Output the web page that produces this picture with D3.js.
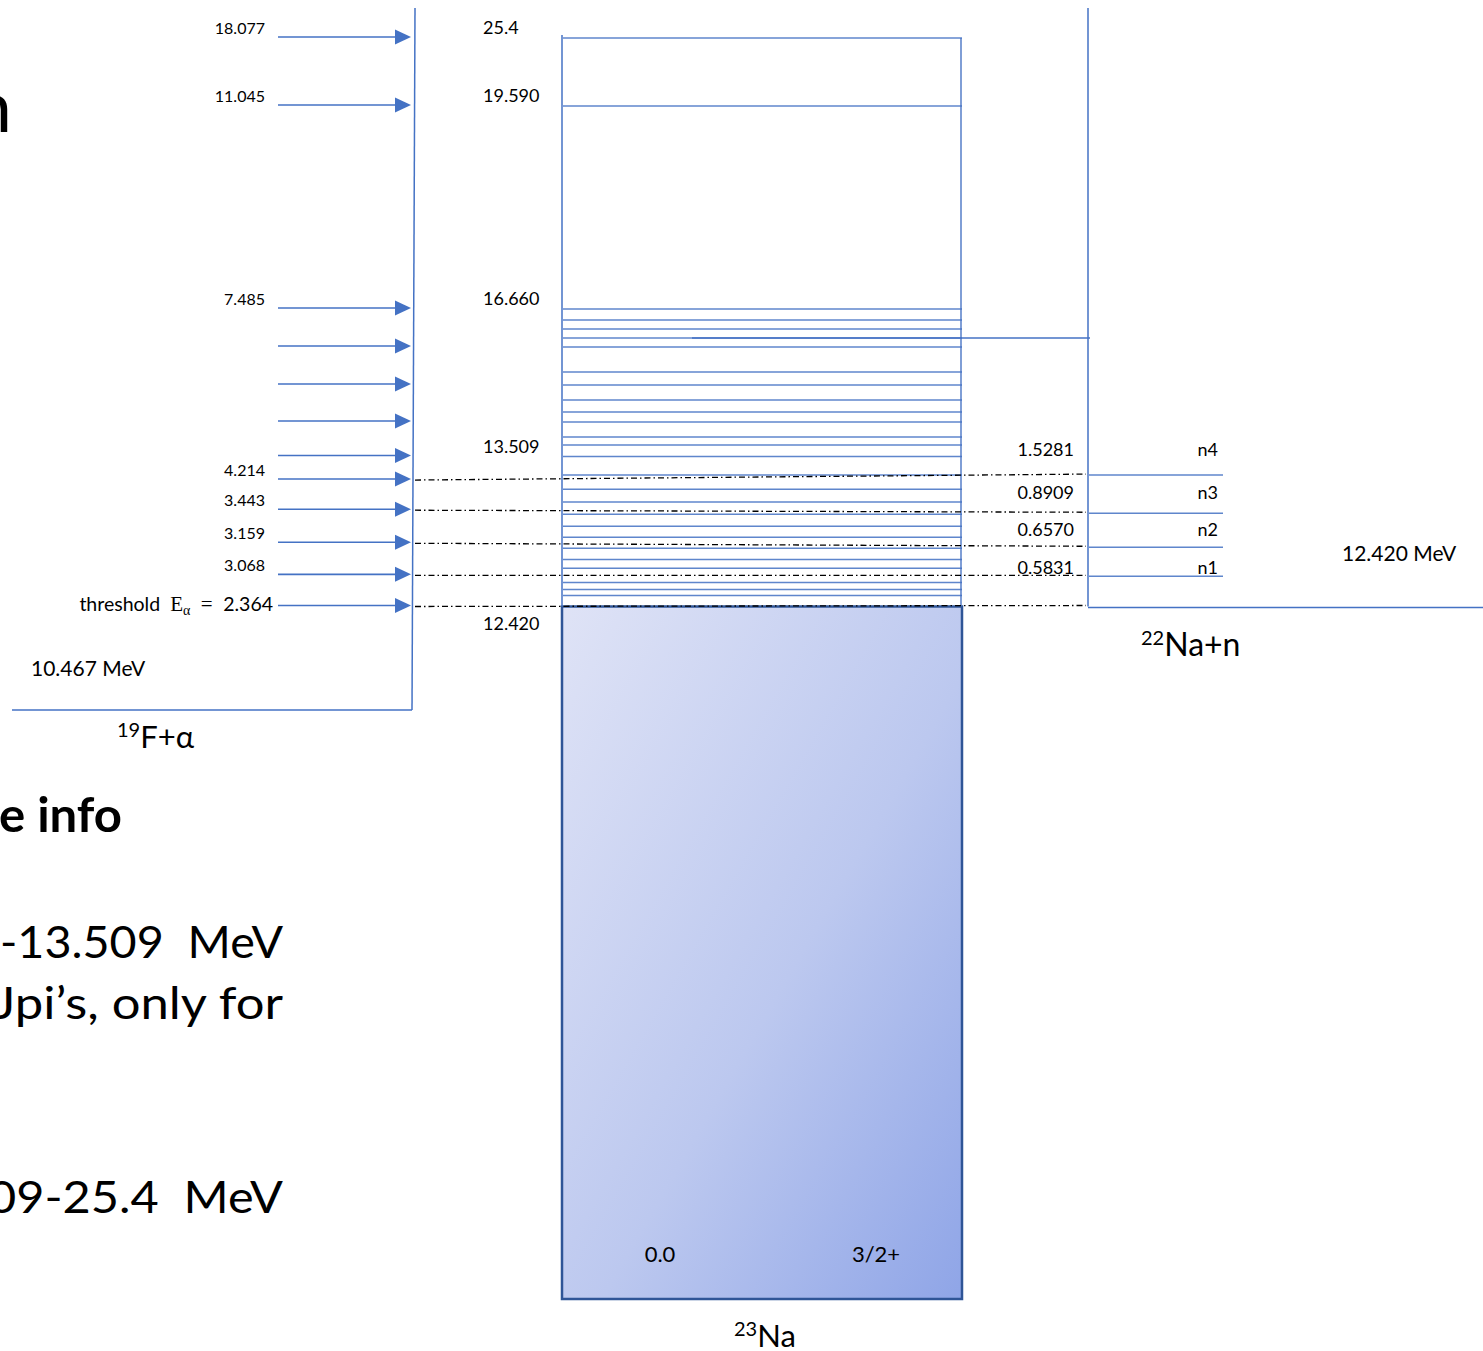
<!DOCTYPE html>
<html><head><meta charset="utf-8">
<script src="https://cdn.jsdelivr.net/npm/d3@7"></script>
<style>body{margin:0;background:#fff;overflow:hidden} svg{display:block}</style>
</head><body><svg id="chart" width="1483" height="1351"></svg>
<script>
// 23Na excitation energies (MeV) of the levels drawn inside the compound-nucleus column
const levelEx = [12.500, 12.544, 12.595, 12.697, 12.762, 12.842, 12.923, 13.003, 13.090, 13.178,
  13.272, 13.374, 13.509, 13.755, 13.926, 14.246, 14.460, 14.716, 15.036, 15.314,
  15.848, 16.041, 16.233, 16.425, 16.660, 19.590, 25.4];
// Labelled 23Na levels
const levelLabels = ["25.4", "19.590", "16.660", "13.509", "12.420"];
const levelLabelEx = [25.4, 19.590, 16.660, 13.509, 12.420];
// Alpha beam energies (MeV, lab) and the 23Na level each beam energy populates
const alphaLabels = ["18.077", "11.045", "7.485", "", "", "", "", "4.214", "3.443", "3.159", "3.068", "2.364"];
const alphaEx = [25.4, 19.59, 16.66, 15.848, 15.036, 14.246, 13.509, 13.338, 13.119, 12.879, 12.646, 12.420];
// 22Na+n exit channels: neutron energies (MeV) and the 23Na resonance they sit at
const neutronNames = ["n1", "n2", "n3", "n4"];
const neutronEn = ["0.5831", "0.6570", "0.8909", "1.5281"];
const neutronEx = [12.639, 12.850, 13.097, 13.374];
// Separation energies and ground state
const alphaThreshold = 10.467;
const neutronThreshold = 12.420;
const neutronPanelTop = 16.041;
const groundEx = 0.0;
const groundJpi = "3/2+";

const svg = d3.select("#chart");
const blue = "#4472C4";
const font = "Lato, 'Open Sans', sans-serif";
const serif = "'Liberation Serif', 'DejaVu Serif', serif";

// Schematic (piecewise linear) energy axis
const y = d3.scaleLinear()
  .domain([groundEx, alphaThreshold, neutronThreshold, 13.509, 16.660, 19.590, 25.4])
  .range([1299, 710, 606.5, 456.5, 309, 106, 38]);

const colL = 562, colR = 961;      // 23Na column
const fL = 414, nL = 1088;         // 19F+a and 22Na+n panel edges
const topY = 8;

// ---------- gradient for the ground-state block ----------
const defs = svg.append("defs");
const grad = defs.append("linearGradient").attr("id", "gsGrad")
  .attr("x1", "0%").attr("y1", "0%").attr("x2", "100%").attr("y2", "100%");
grad.append("stop").attr("offset", "0%").attr("stop-color", "#dfe3f6");
grad.append("stop").attr("offset", "55%").attr("stop-color", "#bcc8ef");
grad.append("stop").attr("offset", "100%").attr("stop-color", "#8fa5e7");

// ---------- slide text at the left edge ----------
const slide = svg.append("g").attr("font-family", font).attr("fill", "#000");
slide.append("text").attr("x", 12).attr("y", 132).attr("text-anchor", "end")
  .attr("font-size", 72).text("n");
slide.append("text").attr("x", -1).attr("y", 832).attr("font-size", 47).attr("font-weight", 700)
  .attr("textLength", 123).attr("lengthAdjust", "spacingAndGlyphs").text("e info");
slide.append("text").attr("x", 0).attr("y", 958).attr("font-size", 44)
  .attr("textLength", 283).attr("lengthAdjust", "spacingAndGlyphs").text("-13.509\u00a0\u00a0MeV");
slide.append("text").attr("x", -6).attr("y", 1019).attr("font-size", 44)
  .attr("textLength", 289).attr("lengthAdjust", "spacingAndGlyphs").text("Jpi\u2019s, only for");
slide.append("text").attr("x", -12).attr("y", 1213).attr("font-size", 44)
  .attr("textLength", 295).attr("lengthAdjust", "spacingAndGlyphs").text("09-25.4\u00a0\u00a0MeV");

// ---------- 19F + alpha panel ----------
const fg = svg.append("g");
fg.append("line").attr("x1", fL + 1).attr("y1", topY).attr("x2", fL - 2).attr("y2", y(alphaThreshold))
  .attr("stroke", blue).attr("stroke-width", 1.5);
fg.append("line").attr("x1", 12).attr("x2", fL - 2)
  .attr("y1", y(alphaThreshold)).attr("y2", y(alphaThreshold))
  .attr("stroke", blue).attr("stroke-width", 1.5);
fg.append("text").attr("x", 31).attr("y", 669).attr("dy", "0.35em")
  .attr("font-family", font).attr("font-size", 21).text(alphaThreshold.toFixed(3) + " MeV");
const fLab = fg.append("text").attr("x", 117).attr("y", 748)
  .attr("font-family", font).attr("font-size", 31);
fLab.append("tspan").attr("font-size", 20).attr("dy", -11).text("19");
fLab.append("tspan").attr("dy", 11).text("F+\u03b1");

// alpha beam arrows
const arrows = fg.selectAll("g.arrow").data(alphaEx).join("g").attr("class", "arrow");
arrows.append("line")
  .attr("x1", 278).attr("x2", 397)
  .attr("y1", d => y(d) - 1).attr("y2", d => y(d) - 1)
  .attr("stroke", blue).attr("stroke-width", 1.6);
arrows.append("path")
  .attr("d", d => { const yy = y(d) - 1; return `M395,${yy - 7.5}L411,${yy}L395,${yy + 7.5}Z`; })
  .attr("fill", blue);
fg.selectAll("text.ea").data(alphaLabels.slice(0, -1)).join("text").attr("class", "ea")
  .attr("x", 265).attr("y", (d, i) => y(alphaEx[i]) - 10).attr("dy", "0.35em")
  .attr("text-anchor", "end").attr("font-family", font).attr("font-size", 16).text(d => d);

// threshold label
const thr = fg.append("text").attr("x", 273).attr("y", y(neutronThreshold) - 2).attr("dy", "0.35em")
  .attr("text-anchor", "end").attr("font-family", font).attr("font-size", 19.5);
thr.append("tspan").text("threshold\u00a0\u00a0");
thr.append("tspan").attr("font-family", serif).attr("font-size", 21).text("E");
thr.append("tspan").attr("font-family", serif).attr("font-size", 14).attr("dy", 4).text("\u03b1");
thr.append("tspan").attr("font-family", serif).attr("font-size", 21).attr("dy", -4).text("\u00a0\u00a0=\u00a0\u00a0");
thr.append("tspan").text(alphaLabels[alphaLabels.length - 1]);

// ---------- 23Na compound nucleus ----------
const na = svg.append("g");
na.append("rect")
  .attr("x", colL).attr("y", y(neutronThreshold))
  .attr("width", colR - colL + 1).attr("height", y(groundEx) - y(neutronThreshold))
  .attr("fill", "url(#gsGrad)").attr("stroke", "#2F5597").attr("stroke-width", 2.5);
na.append("line").attr("x1", colL).attr("x2", colL).attr("y1", y(25.4) - 3).attr("y2", y(neutronThreshold))
  .attr("stroke", blue).attr("stroke-width", 1.5);
na.append("line").attr("x1", colR).attr("x2", colR).attr("y1", y(25.4)).attr("y2", y(neutronThreshold))
  .attr("stroke", blue).attr("stroke-width", 1.6).attr("opacity", 0.85);
na.selectAll("line.lvl").data(levelEx).join("line").attr("class", "lvl")
  .attr("x1", colL + 1).attr("x2", colR + 1)
  .attr("y1", d => y(d)).attr("y2", d => y(d))
  .attr("stroke", blue).attr("stroke-width", 1.5).attr("opacity", 0.85);
na.selectAll("text.lvlLab").data(levelLabels).join("text").attr("class", "lvlLab")
  .attr("x", 483)
  .attr("y", (d, i) => levelLabelEx[i] === neutronThreshold ? y(levelLabelEx[i]) + 17 : y(levelLabelEx[i]) - 10)
  .attr("dy", "0.35em").attr("font-family", font).attr("font-size", 18).text(d => d);
na.append("text").attr("x", 660).attr("y", 1254).attr("dy", "0.35em").attr("text-anchor", "middle")
  .attr("font-family", font).attr("font-size", 22).text(groundEx.toFixed(1));
na.append("text").attr("x", 876).attr("y", 1254).attr("dy", "0.35em").attr("text-anchor", "middle")
  .attr("font-family", font).attr("font-size", 22).text(groundJpi);
const naLab = na.append("text").attr("x", 734).attr("y", 1347)
  .attr("font-family", font).attr("font-size", 31);
naLab.append("tspan").attr("font-size", 20).attr("dy", -11).text("23");
naLab.append("tspan").attr("dy", 11).text("Na");

// ---------- 22Na + n panel ----------
const ng = svg.append("g");
ng.append("line").attr("x1", nL).attr("x2", nL).attr("y1", topY).attr("y2", y(neutronThreshold))
  .attr("stroke", blue).attr("stroke-width", 1.5);
ng.append("line").attr("x1", nL).attr("x2", 1483)
  .attr("y1", y(neutronThreshold) + 1).attr("y2", y(neutronThreshold) + 1)
  .attr("stroke", blue).attr("stroke-width", 1.5);
ng.append("line").attr("x1", 692).attr("x2", nL + 2)
  .attr("y1", y(neutronPanelTop)).attr("y2", y(neutronPanelTop))
  .attr("stroke", blue).attr("stroke-width", 1.5);
ng.selectAll("line.nch").data(neutronEx).join("line").attr("class", "nch")
  .attr("x1", nL + 1).attr("x2", 1223)
  .attr("y1", d => y(d)).attr("y2", d => y(d))
  .attr("stroke", blue).attr("stroke-width", 1.5).attr("opacity", 0.85);
// channel labels sit in the gap above each channel line
const nLabY = i => i === 0 ? y(neutronEx[0]) - 9
  : i < neutronEx.length - 1 ? (y(neutronEx[i]) + y(neutronEx[i + 1])) / 2 - 1
  : y(neutronEx[i]) - 25;
ng.selectAll("text.nname").data(neutronNames).join("text").attr("class", "nname")
  .attr("x", 1218).attr("y", (d, i) => nLabY(i)).attr("dy", "0.35em").attr("text-anchor", "end")
  .attr("font-family", font).attr("font-size", 18).text(d => d);
ng.selectAll("text.nen").data(neutronEn).join("text").attr("class", "nen")
  .attr("x", 1074).attr("y", (d, i) => nLabY(i)).attr("dy", "0.35em").attr("text-anchor", "end")
  .attr("font-family", font).attr("font-size", 18).text(d => d);
ng.append("text").attr("x", 1342).attr("y", 554).attr("dy", "0.35em")
  .attr("font-family", font).attr("font-size", 21).text(neutronThreshold.toFixed(3) + " MeV");
const nnLab = ng.append("text").attr("x", 1141).attr("y", 656)
  .attr("font-family", font).attr("font-size", 32);
nnLab.append("tspan").attr("font-size", 20).attr("dy", -11).text("22");
nnLab.append("tspan").attr("dy", 11).text("Na+n");

// ---------- resonance links (alpha entrance -> neutron exit) ----------
const links = neutronEx.slice().reverse().map((ex, i) => ({ a: alphaEx[7 + i], n: ex }));
links.push({ a: neutronThreshold, n: neutronThreshold });
svg.append("g").selectAll("line").data(links).join("line")
  .attr("x1", fL + 1).attr("x2", nL - 2)
  .attr("y1", d => y(d.a)).attr("y2", d => y(d.n) - 1)
  .attr("stroke", "#000").attr("stroke-width", 1.3)
  .attr("stroke-dasharray", "6,3,1.5,3");
</script>
</body></html>
